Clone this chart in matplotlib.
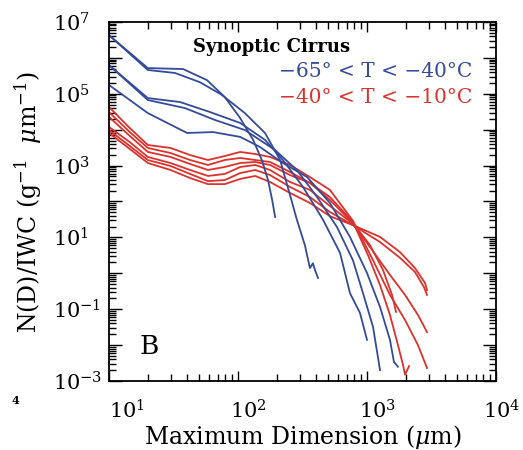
import matplotlib
matplotlib.use("Agg")
import matplotlib.pyplot as plt
import matplotlib.transforms as mtransforms
from matplotlib.ticker import LogLocator, FuncFormatter, NullFormatter
import numpy as np

plt.rcParams["font.family"] = ["DejaVu Serif"]
plt.rcParams["mathtext.fontset"] = "dejavuserif"

BLUE = "#344b9b"
RED = "#dc322d"

# ---- cold cirrus (-65 < T < -40 C): size (um) vs N(D)/IWC
blue_D1 = [10, 20, 37.5, 57.5, 79, 104, 131, 153, 171, 184, 194]
blue_N1 = [4.3e6, 5.2e5, 4.9e5, 2.4e5, 8.1e4, 2.1e4, 5.2e3, 1.43e3, 395, 110, 37]

blue_D2 = [10, 20, 32.5, 50.7, 75, 113, 162, 212, 253, 286, 330, 361, 381, 395, 417]
blue_N2 = [4.3e6, 4.6e5, 3.8e5, 2.1e5, 9.3e4, 2.9e4, 8.1e3, 1.43e3, 152, 31, 6.1, 1.4, 1.9, 1.24, 0.74]

blue_D3 = [10, 20, 35.5, 60.7, 104, 162, 223, 319, 456, 618, 738, 883, 1000]
blue_N3 = [6.3e5, 7.6e4, 5.9e4, 3.1e4, 1.54e4, 5.2e3, 1.43e3, 255, 31, 3.7, 0.28, 0.078, 0.014]

blue_D4 = [10, 20, 38.8, 66.4, 113, 194, 286, 410, 585, 778, 931, 1114, 1262]
blue_N4 = [6.3e5, 6.7e4, 4.0e4, 1.86e4, 9.8e3, 2.7e3, 755, 133, 19.5, 2.3, 0.28, 0.032, 0.0020]

blue_D5 = [10, 20, 40.3, 64, 104, 148, 223, 343, 516, 738, 1000, 1262, 1507, 1618, 1738]
blue_N5 = [1.76e5, 2.9e4, 8.1e3, 8.6e3, 6.3e3, 3.3e3, 1.18e3, 480, 91, 10.3, 1.02, 0.115, 0.014, 0.0034, 0.0025]

# ---- warm cirrus (-40 < T < -10 C)
red_D1 = [10, 14.5, 20, 30, 42.5, 58.5, 79, 104, 136, 177, 253, 361, 516, 778, 1114, 1507, 1972, 2484, 2919]
red_N1 = [4.3e4, 1.11e4, 3.75e3, 3.1e3, 1.97e3, 1.43e3, 1.85e3, 2.4e3, 2.1e3, 1.74e3, 1.04e3, 480, 210, 29,
          2.3, 0.25, 0.050, 0.010, 0.0023]

red_D2 = [10, 14.5, 20, 30, 42.5, 58.5, 79, 104, 136, 177, 253, 361, 516, 778, 1018, 1262, 1507, 1738, 1902, 1972, 2118]
red_N2 = [3.1e4, 8.6e3, 3.1e3, 2.24e3, 1.43e3, 1.04e3, 1.43e3, 1.63e3, 1.43e3, 1.26e3, 665, 330, 133, 27,
          3.2, 0.47, 0.069, 0.010, 0.0028, 0.0015, 0.0026]

red_D3 = [10, 14.5, 20, 30, 42.5, 58.5, 79, 104, 136, 177, 253, 361, 516, 778, 1054, 1330, 1563, 1679]
red_N3 = [2.26e4, 6.7e3, 2.4e3, 1.74e3, 1.11e3, 755, 915, 1.18e3, 1.26e3, 1.04e3, 545, 330, 110, 25,
          6.1, 1.24, 0.25, 0.084]

red_D4 = [10, 14.5, 20, 30, 42.5, 58.5, 79, 104, 136, 177, 253, 361, 516, 778, 1093, 1507, 1972, 2484, 2919]
red_N4 = [1.19e4, 4.5e3, 1.74e3, 1.18e3, 755, 515, 585, 915, 1.04e3, 755, 350, 210, 75, 24,
          4.5, 0.90, 0.25, 0.069, 0.023]

red_D5 = [10, 14.5, 20, 30, 42.5, 58.5, 79, 104, 136, 177, 253, 361, 516, 778, 1262, 1801, 2355, 2766, 2919]
red_N5 = [9.8e3, 3.5e3, 1.43e3, 975, 585, 370, 395, 620, 755, 545, 255, 133, 51, 22,
          7.4, 2.7, 1.09, 0.41, 0.25]

red_D6 = [10, 14.5, 20, 30, 42.5, 58.5, 79, 104, 136, 177, 253, 361, 516, 778, 1262, 1801, 2355, 2815, 2919]
red_N6 = [8.1e3, 2.9e3, 1.18e3, 755, 450, 305, 305, 425, 515, 350, 173, 91, 39, 22,
          10.3, 3.9, 1.4, 0.54, 0.34]

blue_curves = [(blue_D1, blue_N1), (blue_D2, blue_N2), (blue_D3, blue_N3),
               (blue_D4, blue_N4), (blue_D5, blue_N5)]
red_curves = [(red_D1, red_N1), (red_D2, red_N2), (red_D3, red_N3),
              (red_D4, red_N4), (red_D5, red_N5), (red_D6, red_N6)]

fig = plt.figure(figsize=(5.23, 4.5), dpi=100)
ax = fig.add_axes([109 / 523, 1 - 381 / 450, 387 / 523, 359 / 450])

for d, n in red_curves:
    ax.plot(d, n, color=RED, lw=1.3, solid_joinstyle="round")
for d, n in blue_curves:
    ax.plot(d, n, color=BLUE, lw=1.3, solid_joinstyle="round")

ax.set_xscale("log")
ax.set_yscale("log")
ax.set_xlim(10, 1e4)
ax.set_ylim(1e-3, 1e7)

# ticks: inward on all four sides, every decade major, 2..9 minor
ax.xaxis.set_major_locator(LogLocator(base=10, numticks=20))
ax.xaxis.set_minor_locator(LogLocator(base=10, subs=np.arange(2, 10), numticks=100))
ax.yaxis.set_major_locator(LogLocator(base=10, numticks=20))
ax.yaxis.set_minor_locator(LogLocator(base=10, subs=np.arange(2, 10), numticks=100))
ax.xaxis.set_minor_formatter(NullFormatter())
ax.yaxis.set_minor_formatter(NullFormatter())

ax.xaxis.set_major_formatter(FuncFormatter(lambda v, p: r"$10^{%d}$" % round(np.log10(v))))


def ylab(v, p):
    e = int(round(np.log10(v)))
    return r"$10^{%d}$" % e if e % 2 else ""


ax.yaxis.set_major_formatter(FuncFormatter(ylab))

ax.tick_params(axis="both", which="both", direction="in", top=True, right=True,
               width=1.0, labelsize=15)
ax.tick_params(axis="x", which="major", length=7.2, pad=13)
ax.tick_params(axis="x", which="minor", length=4.8)
# y labels are left-aligned in a column starting ~56 px left of the axis
ax.tick_params(axis="y", which="major", length=9.5, pad=40)
ax.tick_params(axis="y", which="minor", length=5.0)
for s in ax.spines.values():
    s.set_linewidth(1.3)

fig.canvas.draw()
for lab in ax.get_yticklabels():
    lab.set_horizontalalignment("left")

# x tick labels start a little left of their ticks (the first one just right of it)
shifts = {10: 0, 100: -8, 1000: -8, 10000: -13}
for tick in ax.xaxis.get_major_ticks():
    v = tick.get_loc()
    dx = shifts.get(int(round(v)), -8)
    off = mtransforms.ScaledTranslation(dx / 100, 0, fig.dpi_scale_trans)
    tick.label1.set_horizontalalignment("left")
    tick.label1.set_transform(tick.label1.get_transform() + off)

ax.set_xlabel(r"Maximum Dimension ($\mu$m)", fontsize=17)
ax.xaxis.set_label_coords(0.5, -0.117)
ax.set_ylabel(r"N(D)/IWC (g$^{-1}$  $\mu$m$^{-1}$)", fontsize=17)
ax.yaxis.set_label_coords(-0.168, 0.5)

ax.text(0.419, 0.930, "Synoptic Cirrus", transform=ax.transAxes, ha="center", va="center",
        fontsize=13, fontweight="bold")
ax.text(0.938, 0.861, "\u221265\u00b0 < T < \u221240\u00b0C", transform=ax.transAxes,
        ha="right", va="center", fontsize=14.5, color=BLUE)
ax.text(0.938, 0.791, "\u221240\u00b0 < T < \u221210\u00b0C", transform=ax.transAxes,
        ha="right", va="center", fontsize=14.5, color=RED)
ax.text(0.080, 0.095, "B", transform=ax.transAxes, ha="left", va="center", fontsize=19)

fig.text(15 / 523, 1 - 401 / 450, "4", fontsize=8, fontweight="bold", ha="center", va="center")

fig.savefig("out.png", dpi=100)
